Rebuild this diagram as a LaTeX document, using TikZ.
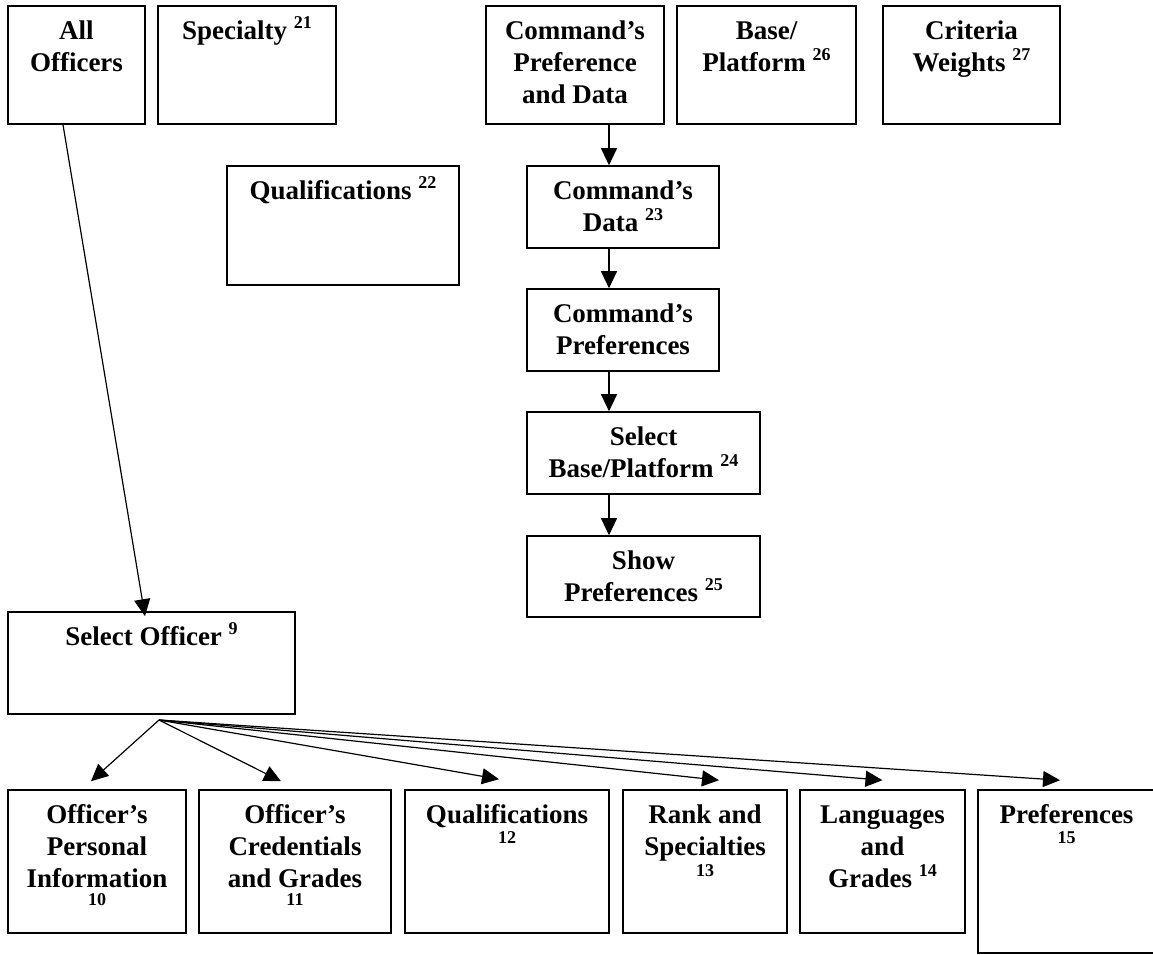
\documentclass[tikz,border=0pt]{standalone}
\usepackage{fontspec}
\setmainfont{Liberation Serif}
\usetikzlibrary{arrows.meta}
% raised reference number after a word
\newcommand\supnum[1]{\raisebox{8.25pt}{\fontsize{13.5pt}{14pt}\selectfont #1}}
% reference number on its own line
\newcommand\lownum[1]{{\fontsize{13.5pt}{14pt}\selectfont #1}}
% fixed height of the first text line, so every label hangs from the box top alike
\newcommand\firstline{\rule{0pt}{19.5pt}}
\begin{document}
\begin{tikzpicture}[x=0.75pt,y=-0.75pt,
  box/.style 2 args={draw=black,line width=1.2pt,rectangle,inner sep=0pt,
    minimum width=#1*0.75pt,minimum height=#2*0.75pt},
  lbl/.style={anchor=north,inner sep=0pt,align=center,
    font=\fontsize{20.25pt}{24pt}\selectfont\bfseries},
  arr/.style={line width=0.9pt,-{Triangle[length=12.75pt,width=12pt]}}]
\useasboundingbox (0,0) rectangle (1153,954);

% top row
\node[box={137}{118}] (all)   at (76.5,65)  {};
\node[box={178}{118}] (spec)  at (247,65)   {};
\node[box={232}{119}] (qual)  at (343,225.5){};
\node[box={178}{118}] (cpd)   at (575,65)   {};
\node[box={179}{118}] (base)  at (766.5,65) {};
\node[box={177}{118}] (crit)  at (971.5,65) {};

% command chain
\node[box={192}{82}] (cdata)    at (623,207)   {};
\node[box={192}{82}] (cpref)    at (623,330)   {};
\node[box={233}{82}] (selbase)  at (643.5,453) {};
\node[box={233}{81}] (showpref) at (643.5,576.5) {};

% officer selection
\node[box={287}{102}] (selof) at (151.5,663) {};

% officer details
\node[box={178}{143}] (pers)  at (97,861.5)    {};
\node[box={192}{143}] (cred)  at (295,861.5)   {};
\node[box={204}{143}] (qualo) at (507,861.5)   {};
\node[box={164}{143}] (rank)  at (705,861.5)   {};
\node[box={165}{143}] (lang)  at (882.5,861.5) {};
\node[box={177}{163}] (pref)  at (1066.5,871.5){};

% labels
\node[lbl] (allT)   at ([yshift=-6pt]all.north)   {\firstline All\\Officers};
\node[lbl] (specT)  at ([yshift=-6pt]spec.north)  {\firstline Specialty~\supnum{21}};
\node[lbl] (qualT)  at ([yshift=-6pt]qual.north)  {\firstline Qualifications~\supnum{22}};
\node[lbl] (cpdT)   at ([yshift=-6pt]cpd.north)   {\firstline Command’s\\Preference\\and Data};
\node[lbl] (baseT)  at ([yshift=-6pt]base.north)  {\firstline Base/\\Platform~\supnum{26}};
\node[lbl] (critT)  at ([yshift=-6pt]crit.north)  {\firstline Criteria\\Weights~\supnum{27}};
\node[lbl] (cdataT) at ([yshift=-6pt]cdata.north) {\firstline Command’s\\Data~\supnum{23}};
\node[lbl] (cprefT) at ([yshift=-6pt]cpref.north) {\firstline Command’s\\Preferences};
\node[lbl] (selbaseT)  at ([yshift=-6pt]selbase.north)  {\firstline Select\\Base/Platform~\supnum{24}};
\node[lbl] (showprefT) at ([yshift=-6pt]showpref.north) {\firstline Show\\Preferences~\supnum{25}};
\node[lbl] (selofT) at ([yshift=-6pt]selof.north) {\firstline Select Officer~\supnum{9}};
\node[lbl] (persT)  at ([yshift=-6pt]pers.north)  {\firstline Officer’s\\Personal\\Information\\[-10.5pt]\lownum{10}};
\node[lbl] (credT)  at ([yshift=-6pt]cred.north)  {\firstline Officer’s\\Credentials\\and Grades\\[-10.5pt]\lownum{11}};
\node[lbl] (qualoT) at ([yshift=-6pt]qualo.north) {\firstline Qualifications\\[-9pt]\lownum{12}};
\node[lbl] (rankT)  at ([yshift=-6pt]rank.north)  {\firstline Rank and\\Specialties\\[-8.25pt]\lownum{13}};
\node[lbl] (langT)  at ([yshift=-6pt]lang.north)  {\firstline Languages\\and\\Grades~\supnum{14}};
\node[lbl] (prefT)  at ([yshift=-6pt]pref.north)  {\firstline Preferences\\[-9pt]\lownum{15}};

% connectors
\coordinate (vx) at (609,0);
\draw[arr] (cpd.south -| vx)     -- (cdata.north -| vx);
\draw[arr] (cdata.south -| vx)   -- (cpref.north -| vx);
\draw[arr] (cpref.south -| vx)   -- (selbase.north -| vx);
\draw[arr] (selbase.south -| vx) -- (showpref.north -| vx);

\draw[arr] ([xshift=-10.125pt]all.south) -- ([xshift=-4.875pt,yshift=-3.75pt]selof.north);

\coordinate (fan) at (159,720);
\draw[arr] (fan) -- ([xshift=-4.5pt,yshift=6pt]pers.north);
\draw[arr] (fan) -- ([xshift=-10.5pt,yshift=6pt]cred.north);
\draw[arr] (fan) -- ([xshift=-6pt,yshift=7.5pt]qualo.north);
\draw[arr] (fan) -- ([xshift=10.5pt,yshift=6.75pt]rank.north);
\draw[arr] (fan) -- ([yshift=6.75pt]lang.north);
\draw[arr] (fan) -- ([xshift=-4.875pt,yshift=6.75pt]pref.north);
\end{tikzpicture}
\end{document}
